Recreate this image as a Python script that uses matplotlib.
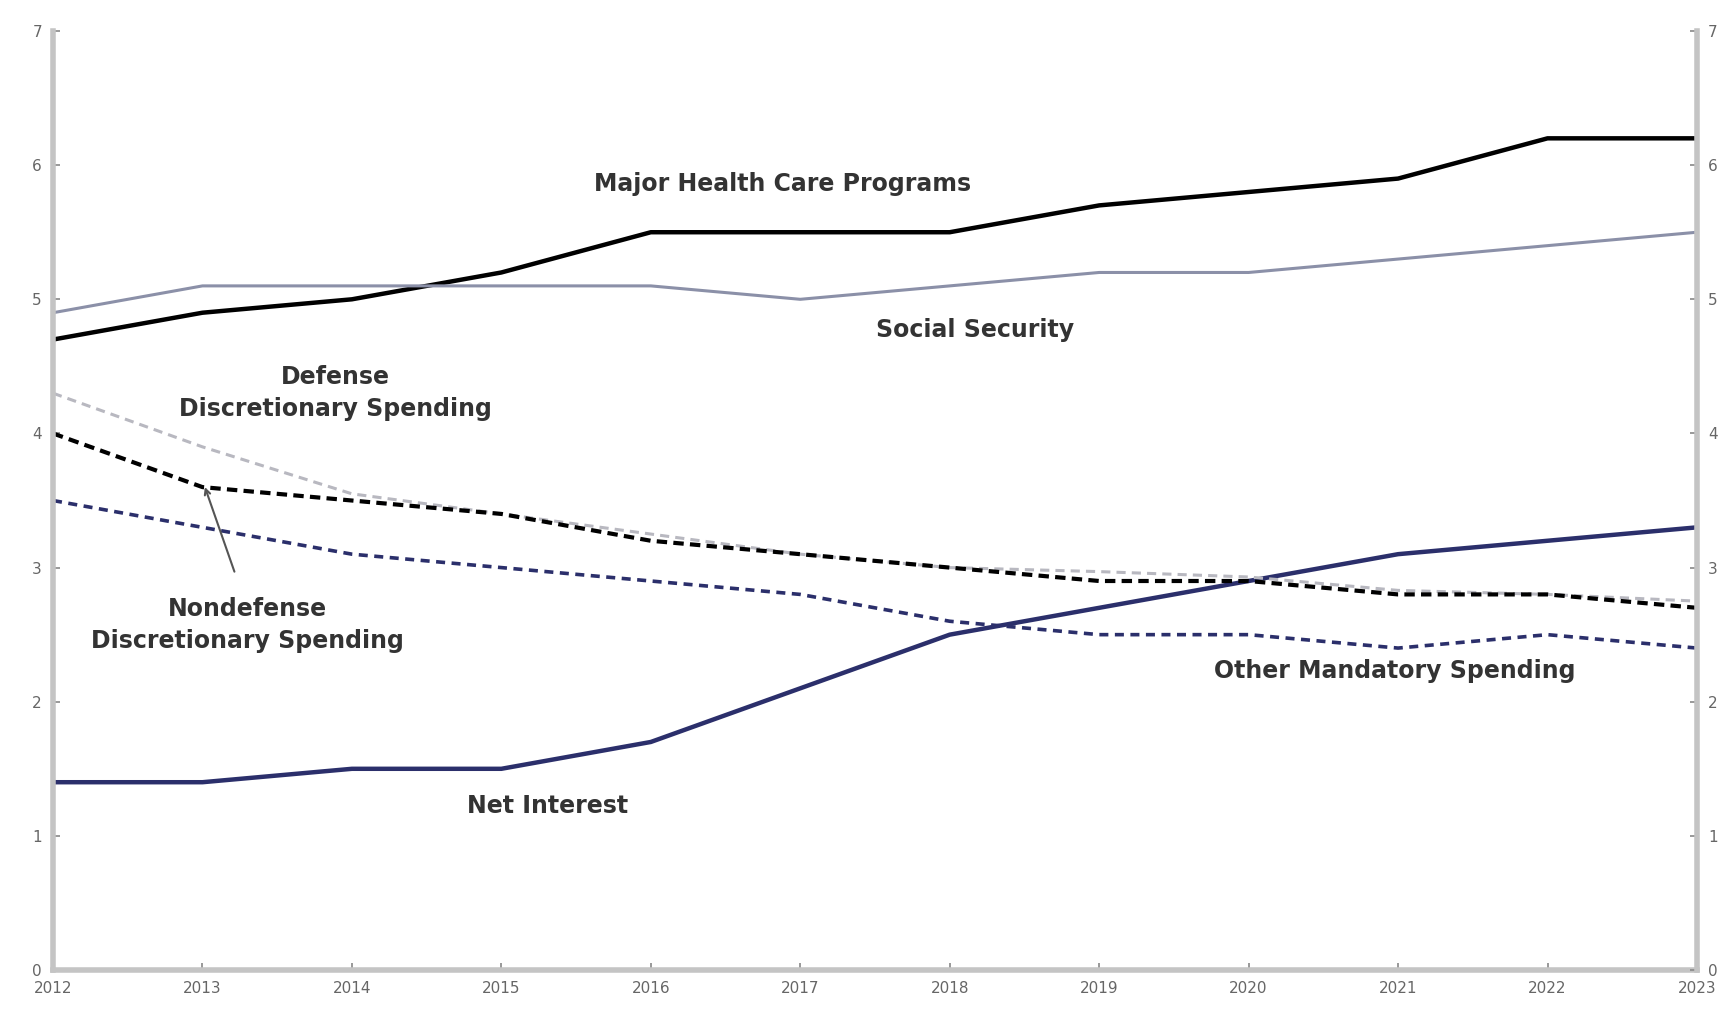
import matplotlib.pyplot as plt

years = list(range(2012, 2024))

# Percentage of GDP
health_care = [4.7, 4.9, 5.0, 5.2, 5.5, 5.5, 5.5, 5.7, 5.8, 5.9, 6.2, 6.2]
social_security = [4.9, 5.1, 5.1, 5.1, 5.1, 5.0, 5.1, 5.2, 5.2, 5.3, 5.4, 5.5]
net_interest = [1.4, 1.4, 1.5, 1.5, 1.7, 2.1, 2.5, 2.7, 2.9, 3.1, 3.2, 3.3]
defense = [4.3, 3.9, 3.55, 3.4, 3.25, 3.1, 3.0, 2.97, 2.93, 2.83, 2.8, 2.75]
nondefense = [4.0, 3.6, 3.5, 3.4, 3.2, 3.1, 3.0, 2.9, 2.9, 2.8, 2.8, 2.7]
other_mandatory = [3.5, 3.3, 3.1, 3.0, 2.9, 2.8, 2.6, 2.5, 2.5, 2.4, 2.5, 2.4]

y_ticks = [0, 1, 2, 3, 4, 5, 6, 7]

fig = plt.figure(figsize=(17.27, 10.17), dpi=100)
ax = fig.add_axes([0.0307, 0.0462, 0.9519, 0.9233])

# Lines
ax.plot(years, health_care, color='black', lw=3.2)
ax.plot(years, social_security, color='#8b90a8', lw=2.2)
ax.plot(years, net_interest, color='#2b2f6b', lw=3.2)
ax.plot(years, defense, color='#b8b8c0', lw=2.2, ls=(0, (3, 2)))
ax.plot(years, nondefense, color='black', lw=3.0, ls=(0, (2.5, 1.5)))
ax.plot(years, other_mandatory, color='#2b2f6b', lw=2.6, ls=(0, (2.5, 1.8)))

# Labels on the lines
txt = dict(color='#333333', fontsize=17, fontweight='bold', ha='center', va='center')
ax.text(2016.88, 5.86, 'Major Health Care Programs', **txt)
ax.text(2018.17, 4.77, 'Social Security', **txt)
ax.text(2013.89, 4.30, 'Defense\nDiscretionary Spending', linespacing=1.4, **txt)
ax.text(2013.30, 2.57, 'Nondefense\nDiscretionary Spending', linespacing=1.4, **txt)
ax.text(2020.98, 2.23, 'Other Mandatory Spending', **txt)
ax.text(2015.31, 1.22, 'Net Interest', **txt)
ax.annotate('', xy=(2013.01, 3.62), xytext=(2013.22, 2.95),
            arrowprops=dict(arrowstyle='->', color='#555555', lw=1.5))

ax.set_xlim(2012, 2023)
ax.set_ylim(0, 7)
ax.set_xticks(years)
ax.set_xticklabels([str(y) for y in years])
ax.set_yticks(y_ticks)

ax2 = ax.twinx()
ax2.set_ylim(0, 7)
ax2.set_yticks(y_ticks)

for a in (ax, ax2):
    for side in ('top', 'left', 'right', 'bottom'):
        a.spines[side].set_visible(False)
    a.tick_params(direction='in', length=5, width=1.2, color='#888888',
                  labelsize=11, labelcolor='#666666', pad=8)

ax.spines['left'].set_visible(True)
ax.spines['bottom'].set_visible(True)
ax2.spines['right'].set_visible(True)
for s in (ax.spines['left'], ax.spines['bottom'], ax2.spines['right']):
    s.set_color('#c4c4c4')
    s.set_linewidth(4)

fig.savefig('out.png', dpi=100)
